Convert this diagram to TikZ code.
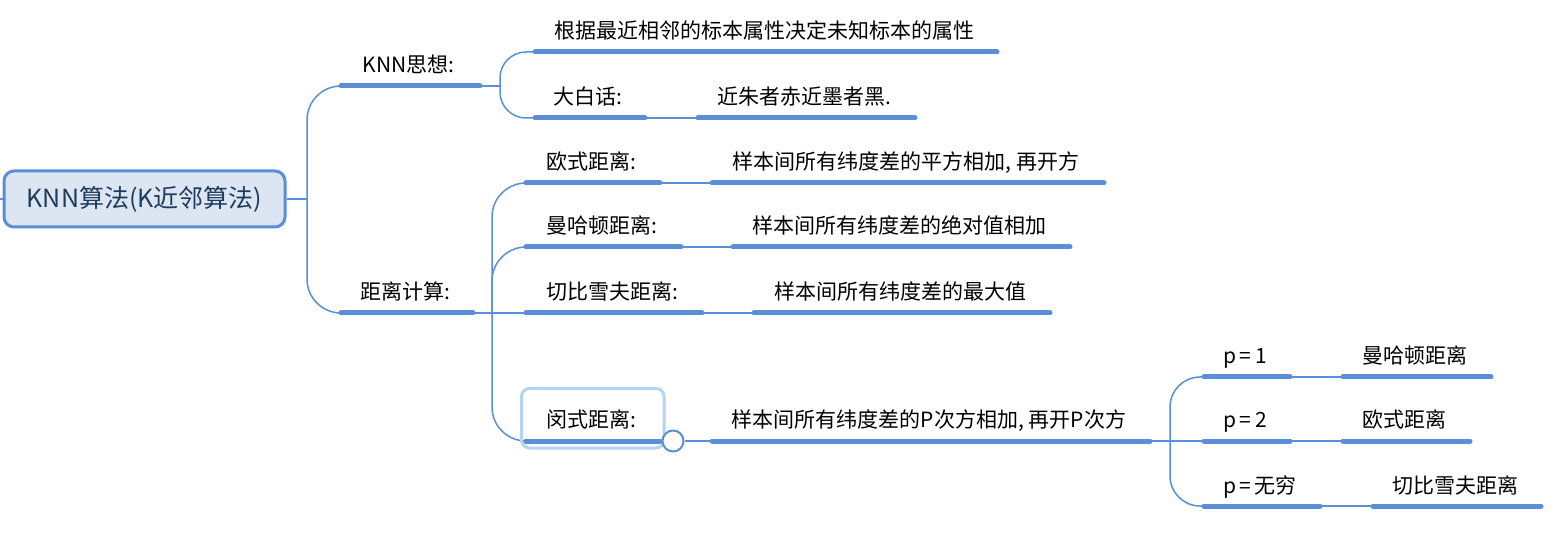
\documentclass[tikz,border=0pt]{standalone}
\usepackage{fontspec}
\setmainfont{Noto Sans CJK SC}
\usetikzlibrary{calc}
\definecolor{lineblue}{HTML}{5A8ED5}
\definecolor{rootfill}{HTML}{DCE6F2}
\definecolor{roottext}{HTML}{1F3B5E}
\definecolor{selblue}{HTML}{B5D3F5}
\tikzset{
  uline/.style={line width=5pt, draw=lineblue, line cap=round},
  conn/.style={line width=1.5pt, draw=lineblue},
  lbl/.style={anchor=base, inner sep=0pt, font=\fontsize{21}{25}\selectfont, text=black},
}
\newcommand\mmtopic[5]{%
  \coordinate (#1-l) at (#2,#4);
  \coordinate (#1-r) at (#3,#4);
  \draw[uline] (#1-l) -- (#1-r);
  \node[lbl] (#1) at ($(#1-l)!0.5!(#1-r)+(-2,-13)$) {#5};
}
\begin{document}
\begin{tikzpicture}[x=1pt,y=-1pt]
\useasboundingbox (0,0) rectangle (1559,545);
% root
\node[draw=lineblue, line width=3pt, fill=rootfill, rounded corners=10pt,
      minimum width=281pt, minimum height=56pt, inner sep=0pt,
      text=roottext, font=\fontsize{25}{29}\selectfont] (root) at (144.5,199) {KNN算法(K近邻算法)};
\coordinate (stub) at (-10,199);
\draw[conn] (stub) -- (root.west);
\coordinate (f1) at (307,199);
% level 1
\mmtopic{knn}{341}{480}{86}{KNN思想:}
\mmtopic{dist}{341}{473}{313}{距离计算:}
\draw[conn] (root.east) -- (f1);
\draw[conn, rounded corners=34pt] (f1) |- (knn-l);
\draw[conn, rounded corners=34pt] (f1) |- (dist-l);
% KNN branch
\mmtopic{gen}{535}{997}{52}{根据最近相邻的标本属性决定未知标本的属性}
\mmtopic{dbh}{535}{645}{118}{大白话:}
\mmtopic{jzz}{698}{915}{118}{近朱者赤近墨者黑.}
\coordinate (f2) at (500,86);
\draw[conn] (knn-r) -- (f2);
\draw[conn, rounded corners=26pt] (f2) |- (gen-l);
\draw[conn, rounded corners=26pt] (f2) |- (dbh-l);
\draw[conn] (dbh-r) -- (jzz-l);
% distance branch
\mmtopic{os}{526}{660}{183}{欧式距离:}
\mmtopic{osd}{712}{1104}{183}{样本间所有纬度差的平方相加, 再开方}
\mmtopic{mh}{526}{681}{247}{曼哈顿距离:}
\mmtopic{mhd}{733}{1070}{247}{样本间所有纬度差的绝对值相加}
\mmtopic{qb}{526}{702}{313}{切比雪夫距离:}
\mmtopic{qbd}{754}{1050}{313}{样本间所有纬度差的最大值}
\mmtopic{mk}{526}{660}{441}{闵式距离:}
\mmtopic{mkd}{712}{1150}{441}{样本间所有纬度差的P次方相加, 再开P次方}
\coordinate (f3) at (492,313);
\draw[conn] (dist-r) -- (qb-l);
\draw[conn, rounded corners=34pt] (f3) |- (os-l);
\draw[conn, rounded corners=34pt] (f3) |- (mh-l);
\draw[conn, rounded corners=34pt] (f3) |- (mk-l);
\draw[conn] (os-r) -- (osd-l);
\draw[conn] (mh-r) -- (mhd-l);
\draw[conn] (qb-r) -- (qbd-l);
% selection box and collapse circle
\coordinate (selA) at (521.5,388.5);
\coordinate (selB) at (664,448);
\draw[draw=selblue, line width=3pt, rounded corners=8pt] (selA) rectangle (selB);
\draw[uline] (mk-l) -- (mk-r);
\node[circle, draw=lineblue, line width=2pt, fill=white, minimum size=21pt, inner sep=0pt] (circ) at (673,441) {};
\draw[conn] (circ.east) -- (mkd-l);
% p branch
\mmtopic{p1}{1204}{1290}{377}{p\,=\,1}
\mmtopic{p1d}{1343}{1491}{377}{曼哈顿距离}
\mmtopic{p2}{1204}{1290}{441}{p\,=\,2}
\mmtopic{p2d}{1343}{1470}{441}{欧式距离}
\mmtopic{p3}{1204}{1320}{506}{p\,=\,无穷}
\mmtopic{p3d}{1373}{1541}{506}{切比雪夫距离}
\coordinate (f4) at (1170,441);
\draw[conn] (mkd-r) -- (p2-l);
\draw[conn, rounded corners=30pt] (f4) |- (p1-l);
\draw[conn, rounded corners=30pt] (f4) |- (p3-l);
\draw[conn] (p1-r) -- (p1d-l);
\draw[conn] (p2-r) -- (p2d-l);
\draw[conn] (p3-r) -- (p3d-l);
\end{tikzpicture}
\end{document}
